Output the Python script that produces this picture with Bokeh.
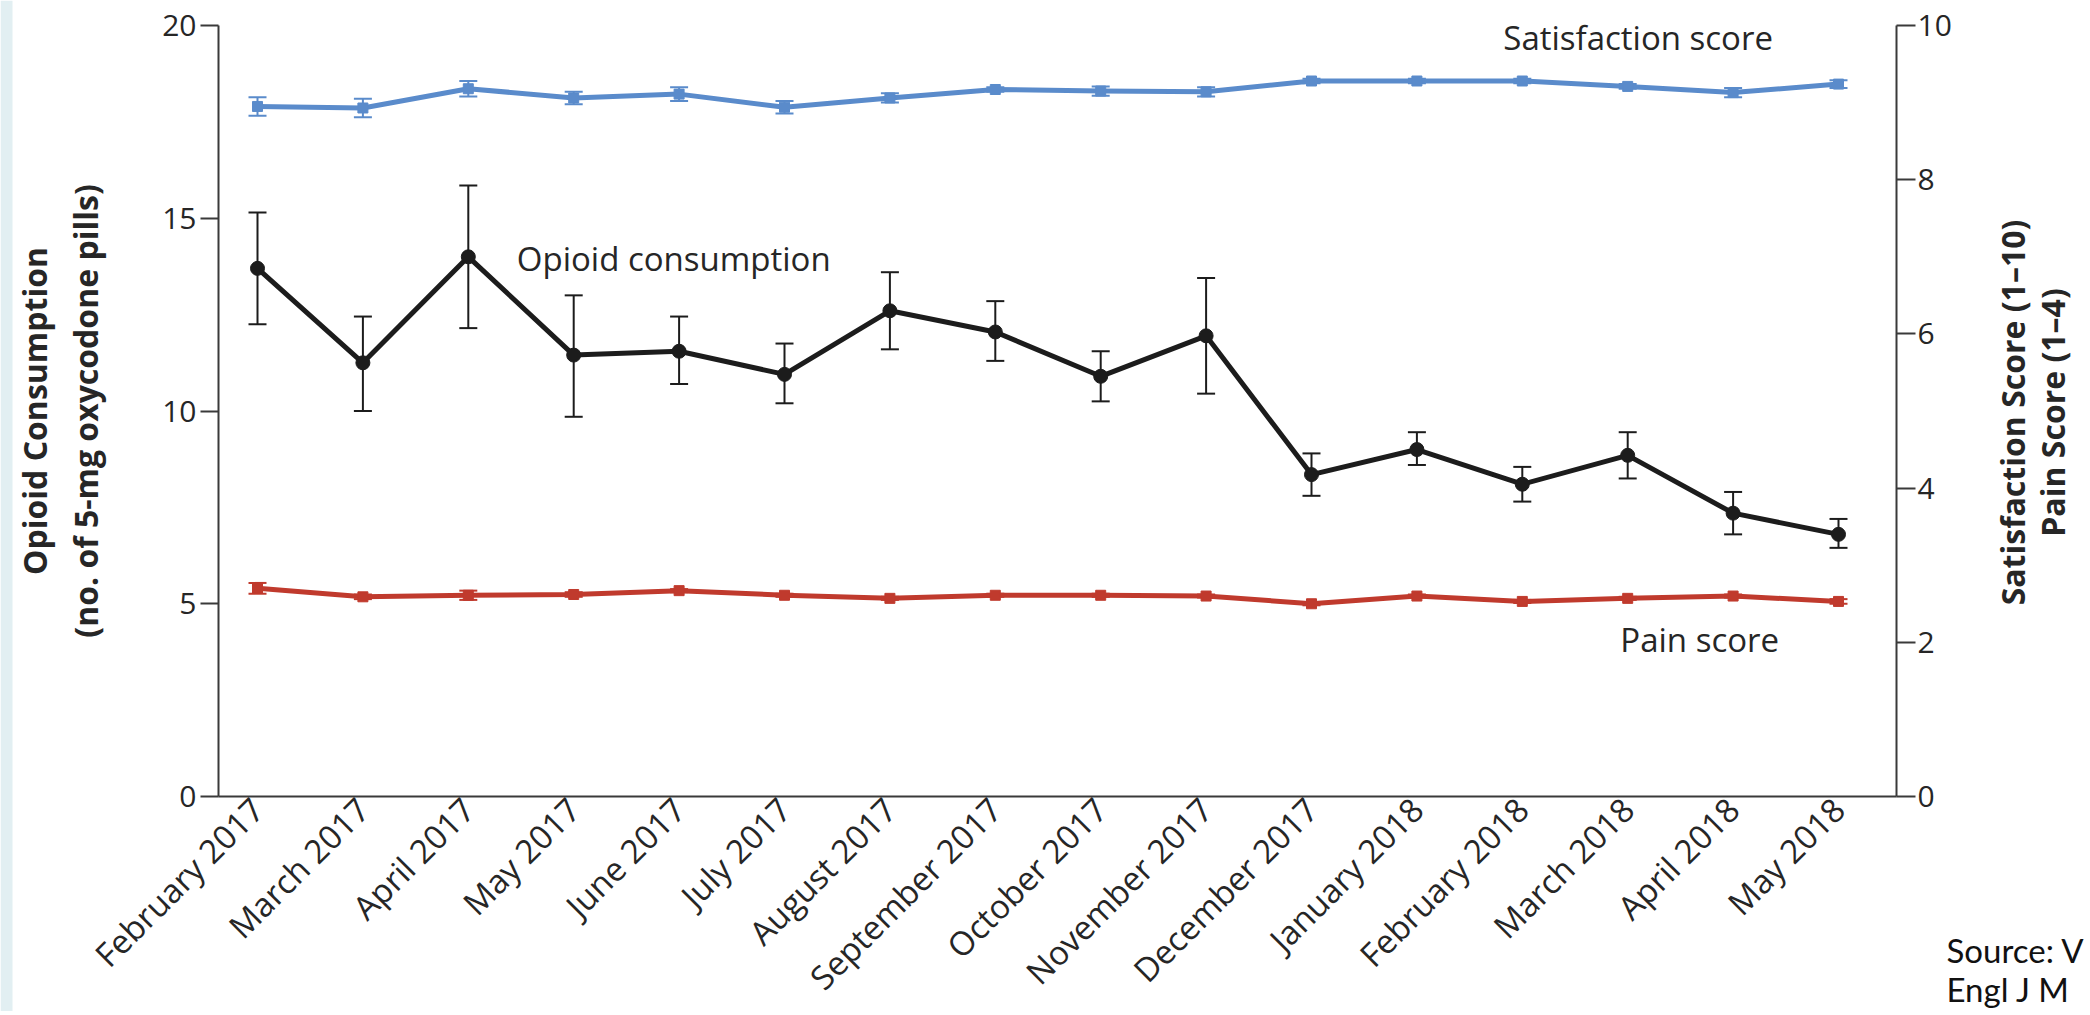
from math import pi
from bokeh.plotting import figure
from bokeh.models import (Range1d, LinearAxis, FixedTicker, ColumnDataSource,
                          Whisker, TeeHead, Label, BoxAnnotation)
from bokeh.embed import file_html
from bokeh.resources import INLINE

# ---------------- data ----------------
months = ["February 2017", "March 2017", "April 2017", "May 2017", "June 2017",
          "July 2017", "August 2017", "September 2017", "October 2017",
          "November 2017", "December 2017", "January 2018", "February 2018",
          "March 2018", "April 2018", "May 2018"]

opioid = [13.7, 11.25, 14.0, 11.45, 11.55, 10.95, 12.6, 12.05, 10.9, 11.95,
          8.35, 9.0, 8.1, 8.85, 7.35, 6.8]
opioid_hi = [15.15, 12.45, 15.85, 13.0, 12.45, 11.75, 13.6, 12.85, 11.55, 13.45,
             8.9, 9.45, 8.55, 9.45, 7.9, 7.2]
opioid_lo = [12.25, 10.0, 12.15, 9.85, 10.7, 10.2, 11.6, 11.3, 10.25, 10.45,
             7.8, 8.6, 7.65, 8.25, 6.8, 6.45]

satisfaction = [8.95, 8.93, 9.18, 9.06, 9.11, 8.94, 9.06, 9.17, 9.15, 9.14,
                9.28, 9.28, 9.28, 9.21, 9.13, 9.24]
satisfaction_err = [0.12, 0.12, 0.10, 0.08, 0.09, 0.08, 0.06, 0.03, 0.06, 0.06,
                    0.03, 0.03, 0.03, 0.03, 0.06, 0.05]

pain = [2.70, 2.59, 2.61, 2.62, 2.67, 2.61, 2.57, 2.61, 2.61, 2.60,
        2.50, 2.60, 2.53, 2.57, 2.60, 2.53]
pain_err = [0.07, 0.03, 0.06, 0.03, 0.02, 0.02, 0.02, 0.02, 0.02, 0.02,
            0.02, 0.02, 0.02, 0.02, 0.02, 0.03]

left_ticks = [0, 5, 10, 15, 20]
right_ticks = [0, 2, 4, 6, 8, 10]

# ---------------- styles / layout ----------------
FONT = "Open Sans"
BLACK = "#1c1c1c"
AXIS = "#3a3a3a"
TXT = "#262626"
BLUE = "#5a8bcb"
RED = "#c03a2d"

W, H = 2086, 1011
X0_PX, DX_PX = 257.0, 105.4       # canvas x of first month, spacing
Y0_PX, DY_PX = 796.0, 38.55       # canvas y of value 0, px per unit (left axis)
X_LEFT_AXIS = (218 - X0_PX) / DX_PX
X_RIGHT_AXIS = (1896 - X0_PX) / DX_PX

idx = list(range(len(months)))

x_range = Range1d(-X0_PX / DX_PX, (W - X0_PX) / DX_PX)
y_range = Range1d(-(H - Y0_PX) / DY_PX, Y0_PX / DY_PX)

p = figure(width=W, height=H, output_backend="svg", toolbar_location=None,
           x_range=x_range, y_range=y_range,
           min_border_left=0, min_border_right=0, min_border_top=0,
           min_border_bottom=0)
p.extra_y_ranges = {"score": Range1d(y_range.start / 2, y_range.end / 2)}
p.outline_line_color = None
p.grid.visible = False
p.background_fill_color = "white"
p.border_fill_color = "white"

# slide edge strip on the far left
p.add_layout(BoxAnnotation(left=x_range.start, right=x_range.start + 12 / DX_PX,
                           fill_color="#e2eff2", fill_alpha=1.0,
                           line_color=None, level="underlay"))

# left axis
ly = p.yaxis[0]
ly.fixed_location = X_LEFT_AXIS
ly.bounds = (0, 20)
ly.ticker = FixedTicker(ticks=left_ticks)
ly.major_tick_out = 18
ly.major_tick_in = 0
ly.minor_tick_line_color = None
ly.axis_line_width = 2
ly.axis_line_color = AXIS
ly.major_tick_line_width = 2
ly.major_tick_line_color = AXIS
ly.major_label_text_font = FONT
ly.major_label_text_font_size = "30px"
ly.major_label_text_color = TXT
ly.major_label_standoff = 4
ly.axis_label = "Opioid Consumption\n(no. of 5-mg oxycodone pills)"
ly.axis_label_text_font = FONT
ly.axis_label_text_font_style = "bold"
ly.axis_label_text_font_size = "32px"
ly.axis_label_text_color = TXT
ly.axis_label_standoff = 52

# bottom axis
bx = p.xaxis[0]
bx.fixed_location = 0
bx.bounds = (X_LEFT_AXIS, X_RIGHT_AXIS)
bx.ticker = FixedTicker(ticks=idx)
bx.major_label_overrides = {i: m for i, m in zip(idx, months)}
bx.major_label_orientation = pi / 4
bx.major_tick_line_color = None
bx.major_tick_out = 0
bx.major_tick_in = 0
bx.minor_tick_line_color = None
bx.axis_line_width = 2
bx.axis_line_color = AXIS
bx.major_label_text_font = FONT
bx.major_label_text_font_size = "33px"
bx.major_label_text_color = TXT
bx.major_label_standoff = 7

# right axis
ry = LinearAxis(y_range_name="score", ticker=FixedTicker(ticks=right_ticks))
ry.fixed_location = X_RIGHT_AXIS
ry.bounds = (0, 10)
ry.major_tick_out = 19
ry.major_tick_in = 0
ry.minor_tick_line_color = None
ry.axis_line_width = 2
ry.axis_line_color = AXIS
ry.major_tick_line_width = 2
ry.major_tick_line_color = AXIS
ry.major_label_text_font = FONT
ry.major_label_text_font_size = "30px"
ry.major_label_text_color = TXT
ry.major_label_standoff = 2
p.add_layout(ry, "right")

# ---------------- series ----------------
src_op = ColumnDataSource(dict(x=idx, y=opioid, lo=opioid_lo, hi=opioid_hi))
src_sat = ColumnDataSource(dict(
    x=idx, y=satisfaction,
    lo=[v - e for v, e in zip(satisfaction, satisfaction_err)],
    hi=[v + e for v, e in zip(satisfaction, satisfaction_err)]))
src_pain = ColumnDataSource(dict(
    x=idx, y=pain,
    lo=[v - e for v, e in zip(pain, pain_err)],
    hi=[v + e for v, e in zip(pain, pain_err)]))


def whisker(src, color, width, rng=None):
    kw = {}
    if rng:
        kw["y_range_name"] = rng
    w = Whisker(source=src, base="x", upper="hi", lower="lo", dimension="height",
                line_color=color, line_width=width,
                upper_head=TeeHead(size=18, line_color=color, line_width=width),
                lower_head=TeeHead(size=18, line_color=color, line_width=width),
                **kw)
    p.add_layout(w)


whisker(src_op, BLACK, 2)
whisker(src_sat, BLUE, 2, "score")
whisker(src_pain, RED, 2, "score")

p.line("x", "y", source=src_sat, y_range_name="score", line_color=BLUE,
       line_width=5, line_join="round")
p.scatter("x", "y", source=src_sat, y_range_name="score", marker="square",
          size=10, fill_color=BLUE, line_color=BLUE)

p.line("x", "y", source=src_pain, y_range_name="score", line_color=RED,
       line_width=5, line_join="round")
p.scatter("x", "y", source=src_pain, y_range_name="score", marker="square",
          size=10, fill_color=RED, line_color=RED)

p.line("x", "y", source=src_op, line_color=BLACK, line_width=5, line_join="round")
p.scatter("x", "y", source=src_op, marker="circle", size=14,
          fill_color=BLACK, line_color=BLACK)


# ---------------- text ----------------
def lab(x, y, text, size="33px", **kw):
    opts = dict(text_font=FONT, text_font_size=size, text_color=TXT,
                text_baseline="middle")
    opts.update(kw)
    p.add_layout(Label(x=x, y=y, text=text, **opts))


def outer(x, y, text, size, **kw):
    opts = dict(text_font=FONT, text_font_size=size, text_color=TXT,
                text_baseline="middle")
    opts.update(kw)
    p.add_layout(Label(x=x, y=y, x_units="canvas", y_units="canvas",
                       text=text, **opts))


lab(2.46, 13.95, "Opioid consumption")
lab(11.82, 19.69, "Satisfaction score")
lab(12.93, 4.07, "Pain score")

# right-hand axis title (two lines, reading bottom-to-top)
outer(2012, 412, "Satisfaction Score (1\u201310)", "32px", angle=pi / 2,
      text_align="center", text_font_style="bold")
outer(2052, 412, "Pain Score (1\u20134)", "32px", angle=pi / 2,
      text_align="center", text_font_style="bold")

# source note (bottom right)
outer(1946, 949, "Source: V", "33px", text_font="Lato", text_color="#111111")
outer(1946, 988, "Engl J M", "33px", text_font="Lato", text_color="#111111")

open("out.html", "w").write(file_html(p, INLINE))
